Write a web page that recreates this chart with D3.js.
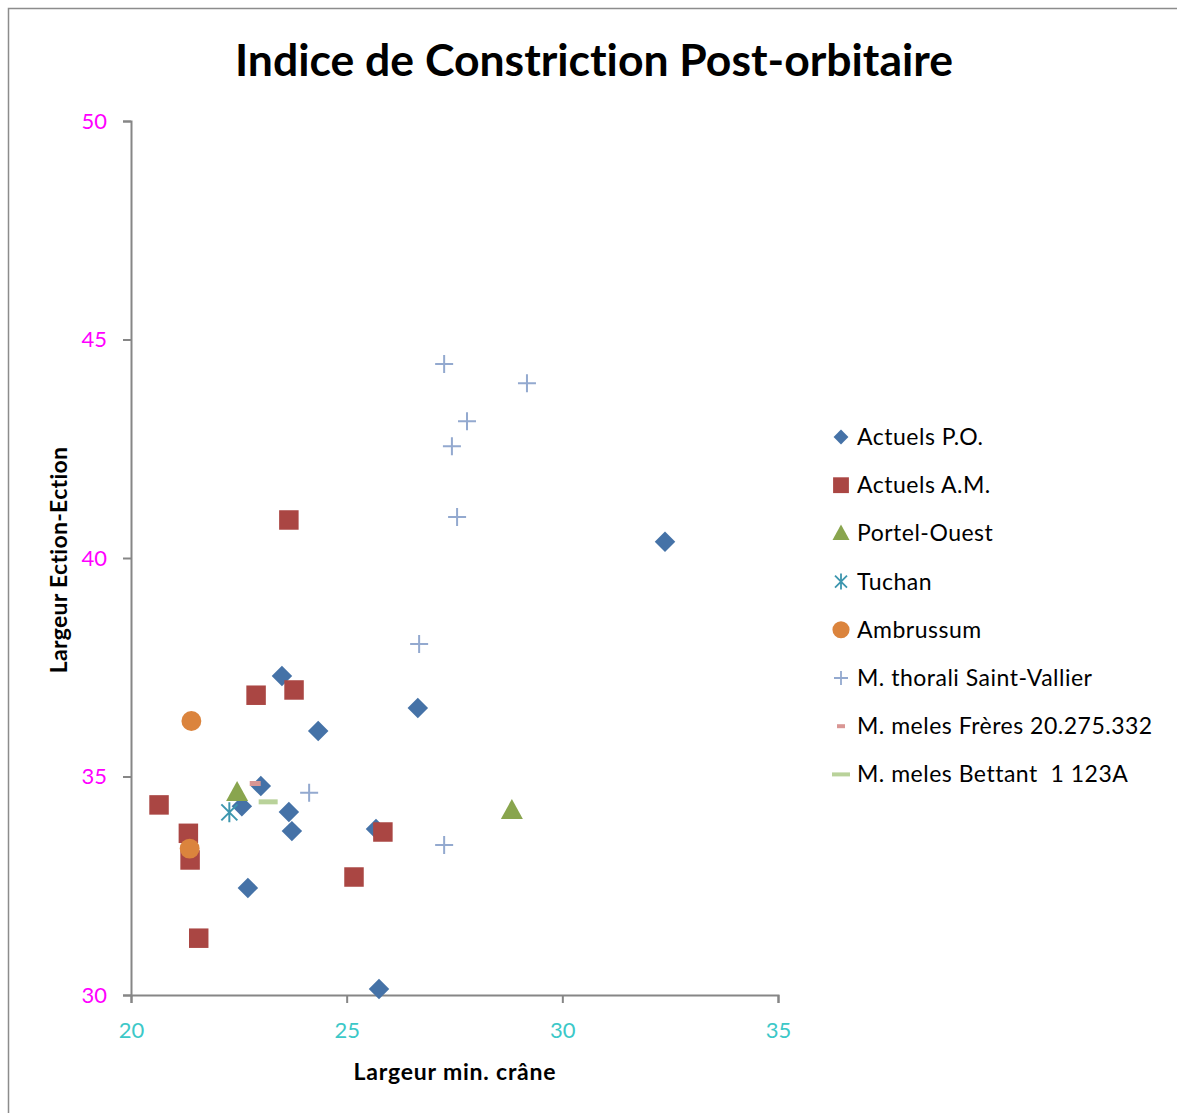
<!DOCTYPE html>
<html>
  <head>
    <meta charset="utf-8">
    <script src="https://cdn.jsdelivr.net/npm/d3@7"></script>
  </head>
  <body>
    <svg width="1177" height="1113"></svg>
    <style>
      html, body { margin: 0; padding: 0; background: #fff; }
      svg { display: block; font-family: 'Lato', 'Liberation Sans', sans-serif; }
      svg text { font-variant-ligatures: none; font-feature-settings: "liga" 0, "clig" 0, "dlig" 0; }
    </style>
    <script>
      // series names
      const seriesNames = [
        "Actuels P.O.",
        "Actuels A.M.",
        "Portel-Ouest",
        "Tuchan",
        "Ambrussum",
        "M. thorali Saint-Vallier",
        "M. meles Frères 20.275.332",
        "M. meles Bettant  1 123A"
      ];

      // values: [largeur min. crâne, largeur ection-ection]
      const actuelsPO = [
        [32.38, 40.37], [26.65, 36.57], [24.34, 36.04], [23.50, 37.30],
        [23.01, 34.78], [22.57, 34.32], [23.66, 34.19], [23.73, 33.75],
        [22.71, 32.45], [25.75, 30.14], [25.68, 33.80]
      ];
      const actuelsAM = [
        [23.66, 40.87], [22.90, 36.86], [23.78, 36.98], [20.65, 34.35],
        [21.33, 33.70], [21.37, 33.09], [25.17, 32.70], [21.57, 31.30],
        [25.84, 33.73]
      ];
      const portelOuest = [[22.46, 34.62], [28.83, 34.21]];
      const tuchan = [[22.28, 34.18]];
      const ambrussum = [[21.40, 36.27], [21.36, 33.35]];
      const thorali = [
        [27.26, 44.44], [29.18, 44.00], [27.79, 43.13], [27.44, 42.56],
        [27.56, 40.94], [26.68, 38.03], [24.13, 34.63], [27.26, 33.43]
      ];
      const melesFreres = [[22.88, 34.84]];
      const melesBettant = [[23.18, 34.42]];

      const xTicks = [20, 25, 30, 35];
      const yTicks = [30, 35, 40, 45, 50];

      const svg = d3.select("svg");

      // outer frame
      svg.append("rect")
        .attr("x", 8.5).attr("y", 8.5)
        .attr("width", 1180).attr("height", 1120)
        .attr("fill", "none")
        .attr("stroke", "#8c8c8c")
        .attr("stroke-width", 1.5);

      const x = d3.scaleLinear().domain([20, 35]).range([131, 778]);
      const y = d3.scaleLinear().domain([30, 50]).range([995, 121]);

      // title
      svg.append("text")
        .attr("x", 594).attr("y", 76)
        .attr("text-anchor", "middle")
        .attr("font-size", 44.5)
        .attr("font-weight", "bold")
        .attr("fill", "#000")
        .text("Indice de Constriction Post-orbitaire");

      // axes
      const xAxis = svg.append("g")
        .attr("transform", `translate(0,${y(30)})`)
        .call(d3.axisBottom(x).tickValues(xTicks).tickSize(8).tickPadding(19).tickFormat(d3.format("d")));
      const yAxis = svg.append("g")
        .attr("transform", `translate(${x(20)},0)`)
        .call(d3.axisLeft(y).tickValues(yTicks).tickSize(8).tickPadding(16).tickFormat(d3.format("d")));

      [xAxis, yAxis].forEach(g => {
        g.select(".domain").attr("stroke", "#868686").attr("stroke-width", 2);
        g.selectAll(".tick line").attr("stroke", "#868686").attr("stroke-width", 2);
        g.selectAll(".tick text").attr("font-size", 22).attr("font-family", "Lato, sans-serif");
      });
      xAxis.selectAll(".tick text").attr("fill", "#3cc8c8");
      yAxis.selectAll(".tick text").attr("fill", "#ff00ff");

      // axis titles
      svg.append("text")
        .attr("x", 455).attr("y", 1080)
        .attr("text-anchor", "middle")
        .attr("font-size", 23).attr("font-weight", "bold")
        .attr("letter-spacing", 0.8)
        .text("Largeur min. crâne");
      svg.append("text")
        .attr("transform", `translate(67,560) rotate(-90)`)
        .attr("text-anchor", "middle")
        .attr("font-size", 23).attr("font-weight", "bold")
        .attr("letter-spacing", 0.3)
        .text("Largeur Ection-Ection");

      // marker shapes
      const sq = d3.symbol().type(d3.symbolSquare);
      const markers = [
        { data: actuelsPO, color: "#4572a7", path: sq.size(210)(), rot: 45 },
        { data: actuelsAM, color: "#aa4643", path: sq.size(380)(), rot: 0 },
        { data: portelOuest, color: "#89a54e", path: "M0,-12L11,8L-11,8Z", rot: 0 },
        { data: tuchan, color: "#3d96ae", stroke: true,
          path: "M-8,-8L8,8M-8,8L8,-8M0,-10L0,10", rot: 0 },
        { data: ambrussum, color: "#db843d", path: d3.symbol().type(d3.symbolCircle).size(310)(), rot: 0 },
        { data: thorali, color: "#93a9cf", stroke: true, path: "M-9,0L9,0M0,-9L0,9", rot: 0 },
        { data: melesFreres, color: "#d99694", path: "M-5.5,-2.5H5.5V2.5H-5.5Z", rot: 0 },
        { data: melesBettant, color: "#b9d29a", path: "M-9.5,-2.5H9.5V2.5H-9.5Z", rot: 0 }
      ];

      // draw points (first series underneath, as in the original)
      markers.forEach(m => {
        svg.append("g")
          .selectAll("path")
          .data(m.data)
          .join("path")
          .attr("d", m.path)
          .attr("transform", d => `translate(${x(d[0])},${y(d[1])}) rotate(${m.rot})`)
          .attr("fill", m.stroke ? "none" : m.color)
          .attr("stroke", m.stroke ? m.color : "none")
          .attr("stroke-width", m.stroke ? 2 : 0);
      });

      // legend
      const legend = svg.append("g").attr("transform", "translate(841,437)");
      const rows = legend.selectAll("g")
        .data(markers)
        .join("g")
        .attr("transform", (d, i) => `translate(0,${i * 48.2})`);

      rows.append("path")
        .attr("d", (m, i) => {
          if (i === 0) return d3.symbol().type(d3.symbolSquare).size(110)();
          if (i === 1) return d3.symbol().type(d3.symbolSquare).size(250)();
          if (i === 2) return "M0,-9L8.5,6.5L-8.5,6.5Z";
          if (i === 3) return "M-6,-6L6,6M-6,6L6,-6M0,-8L0,8";
          if (i === 4) return d3.symbol().type(d3.symbolCircle).size(230)();
          if (i === 5) return "M-7,0L7,0M0,-7L0,7";
          if (i === 6) return "M-4,-2H4V2H-4Z";
          return "M-9,-2H9V2H-9Z";
        })
        .attr("transform", (m, i) => i === 0 ? "rotate(45)" : null)
        .attr("fill", m => m.stroke ? "none" : m.color)
        .attr("stroke", m => m.stroke ? m.color : "none")
        .attr("stroke-width", m => m.stroke ? 1.8 : 0);

      rows.append("text")
        .attr("x", 16)
        .attr("dy", "0.35em")
        .attr("font-size", 23)
        .attr("letter-spacing", 0.5)
        .attr("fill", "#000")
        .attr("xml:space", "preserve")
        .text((m, i) => seriesNames[i]);
    </script>
  </body>
</html>
